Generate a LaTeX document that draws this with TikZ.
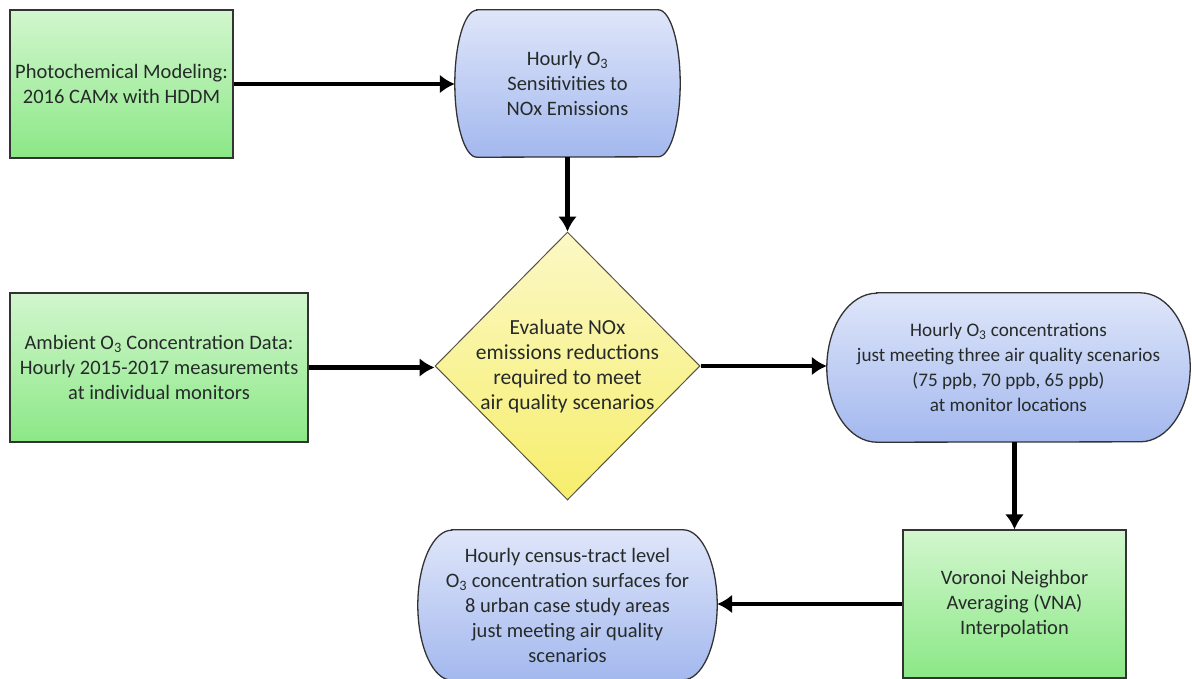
\documentclass[tikz,border=0pt]{standalone}
\usepackage{fontspec}
\setmainfont{Carlito}
\usetikzlibrary{shapes.geometric,arrows.meta,backgrounds}

\definecolor{greentop}{HTML}{D2F6CE}
\definecolor{greenbot}{HTML}{8BE886}
\definecolor{bluetop}{HTML}{DFE6FA}
\definecolor{bluebot}{HTML}{A3B8EE}
\definecolor{yellowtop}{HTML}{FBF8C6}
\definecolor{yellowbot}{HTML}{F7EE6C}
\definecolor{outline}{HTML}{333333}
\definecolor{textdark}{HTML}{262B2A}

\tikzset{
  greenbox/.style={draw=outline, line width=1.3pt, top color=greentop, bottom color=greenbot,
    text=textdark, align=center, inner sep=0pt},
  blob/.style={text=textdark, align=center, inner sep=0pt},
  blobline/.style={draw=outline, line width=1.3pt, top color=bluetop, bottom color=bluebot},
  decision/.style={diamond, draw=black!60!yellow!60!black, line width=1pt, top color=yellowtop,
    bottom color=yellowbot, text=textdark, align=center, inner sep=-25pt},
  flow/.style={->, line width=4.5pt}
}

% outline with half-ellipse ends round a blob node: name, x radius, y radius
\newcommand{\blobshape}[3]{%
  \path[blobline] ([xshift=#2]#1.north west) -- ([xshift=-#2]#1.north east)
    arc[start angle=90, end angle=-90, x radius=#2, y radius=#3]
    -- ([xshift=#2]#1.south west)
    arc[start angle=270, end angle=90, x radius=#2, y radius=#3] -- cycle;}

\begin{document}
\begin{tikzpicture}[x=1pt, y=-1pt, >={Latex[length=15pt,width=19pt]}, font=\fontsize{20.5}{25}\selectfont]
\useasboundingbox (0,0) rectangle (1192,678);

\node[name=photo, greenbox, minimum width=223pt, minimum height=148pt] at (121.5,84)
  {Photochemical Modeling:\\2016 CAMx with HDDM};
\node[name=sens, blob, minimum width=225pt, minimum height=147pt] at (567.5,83.5)
  {Hourly O\textsubscript{3}\\Sensitivities to\\NOx Emissions};
\node[name=ambient, greenbox, minimum width=298pt, minimum height=149pt] at (159,367.5)
  {Ambient O\textsubscript{3} Concentration Data:\\Hourly 2015-2017 measurements\\at individual monitors};
\node[name=evalnox, decision, minimum width=265pt, minimum height=268pt,
  font=\fontsize{21.5}{25}\selectfont] at (567.5,366)
  {Evaluate NOx\\emissions reductions\\required to meet\\air quality scenarios};
\node[name=conc, blob, minimum width=363pt, minimum height=149pt,
  font=\fontsize{19.2}{25}\selectfont] at (1008.5,367.5)
  {Hourly O\textsubscript{3} concentrations\\just meeting three air quality scenarios\\(75 ppb, 70 ppb, 65 ppb)\\at monitor locations};
\node[name=vna, greenbox, minimum width=223pt, minimum height=148pt] at (1014.5,604)
  {Voronoi Neighbor\\Averaging (VNA)\\Interpolation};
\node[name=surf, blob, minimum width=299pt, minimum height=150pt] at (567.5,605)
  {Hourly census-tract level\\O\textsubscript{3} concentration surfaces for\\8 urban case study areas\\just meeting air quality\\scenarios};

\begin{scope}[on background layer]
\blobshape{sens}{22pt}{73.5pt}
\blobshape{conc}{50pt}{74.5pt}
\blobshape{surf}{34pt}{75pt}
\end{scope}

\draw[flow] (photo.east) -- (photo.east -| sens.west);
\draw[flow] (sens.south) -- (evalnox.north);
\draw[flow] (ambient.east) -- (ambient.east -| evalnox.west);
\draw[flow] (evalnox.east) -- (evalnox.east -| conc.west);
\draw[flow] (vna.north |- conc.south) -- (vna.north);
\draw[flow] (vna.west) -- (vna.west -| surf.east);

\end{tikzpicture}
\end{document}
